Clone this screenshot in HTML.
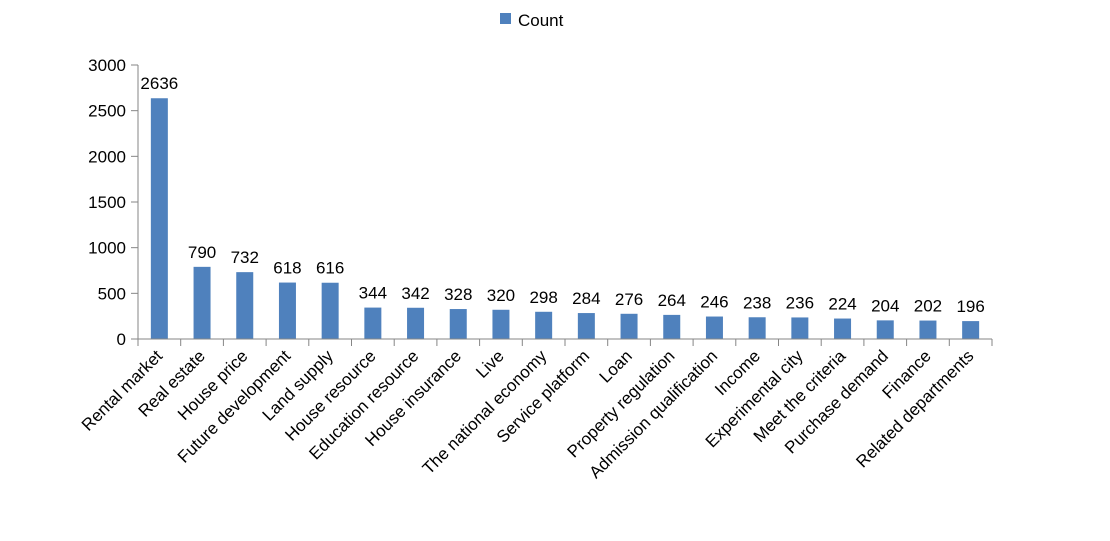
<!DOCTYPE html>
<html><head><meta charset="utf-8"><style>
body{margin:0;background:#fff;}
text{font-family:"Liberation Sans",sans-serif;fill:#000;}
</style></head><body>
<svg id="chart" width="1110" height="536" viewBox="0 0 1110 536">
<g>
<rect x="500" y="13" width="11" height="11" fill="#4f81bd"/>
<text x="518" y="26" font-size="17">Count</text>
</g>
<g id="plot"></g>
</svg>
<script>
const categories=["Rental market","Real estate","House price","Future development","Land supply","House resource","Education resource","House insurance","Live","The national economy","Service platform","Loan","Property regulation","Admission qualification","Income","Experimental city","Meet the criteria","Purchase demand","Finance","Related departments"];
const counts=[2636,790,732,618,616,344,342,328,320,298,284,276,264,246,238,236,224,204,202,196];
const yTicks=[0,500,1000,1500,2000,2500,3000];
const X0=138,X1=992,Y0=339,Y1=65,YMAX=3000;
const bw=(X1-X0)/categories.length;
const y=v=>Y0-(v/YMAX)*(Y0-Y1);
const x=i=>X0+bw*(i+0.5);
const g=document.getElementById('plot');
const NS='http://www.w3.org/2000/svg';
function mk(t,a){const e=document.createElementNS(NS,t);for(const k in a)e.setAttribute(k,a[k]);g.appendChild(e);return e;}
yTicks.forEach(v=>{
 const l=mk('line',{x1:X0-7,x2:X0,y1:y(v),y2:y(v),stroke:'#868686'});
 
 
 const t=mk('text',{x:X0-12,y:y(v)+6,'font-size':17,'text-anchor':'end'});
 t.textContent=v;
 
 
});
categories.forEach((c,i)=>{
 const r=mk('rect',{x:x(i)-8.5,y:y(counts[i]),width:17,height:Y0-y(counts[i]),fill:'#4f81bd'});
 
 
 const v=mk('text',{x:x(i),y:y(counts[i])-9,'font-size':17,'text-anchor':'middle'});
 v.textContent=counts[i];
 
 
 const tk=mk('line',{x1:X0+bw*(i+1),x2:X0+bw*(i+1),y1:Y0,y2:Y0+7,stroke:'#868686'});
 
 
 const cl=mk('text',{x:x(i)+4,y:Y0+18,'font-size':17,'text-anchor':'end',transform:`rotate(-45 ${x(i)+4} ${Y0+18})`});
 cl.textContent=c;
 
 
});
const ax=mk('line',{x1:X0,x2:X0,y1:Y1,y2:Y0+7,stroke:'#868686'});


const bx=mk('line',{x1:X0,x2:X1,y1:Y0,y2:Y0,stroke:'#868686'});


</script>
</body></html>
